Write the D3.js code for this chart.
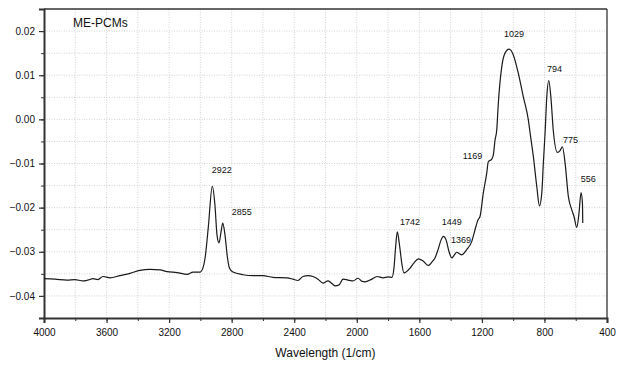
<!DOCTYPE html>
<html>
<head>
<meta charset="utf-8">
<script src="https://cdn.jsdelivr.net/npm/d3@7"></script>
<style>
  html, body { margin: 0; padding: 0; background: #fff; }
  svg { display: block; font-family: "Liberation Sans", Arial, sans-serif; }
</style>
</head>
<body>
<svg id="chart" width="622" height="365"></svg>
<script>
// FTIR spectrum of ME-PCMs
const wavenumbers = [
  4000, 3930, 3853, 3802, 3751, 3719, 3687, 3655, 3623, 3578, 3514, 3450, 3386, 3322, 3258, 3213,
  3149, 3085, 3047, 3002, 2983, 2970, 2949, 2924, 2907, 2894, 2881, 2868, 2857, 2843, 2827, 2815,
  2792, 2727, 2663, 2600, 2536, 2446, 2408, 2376, 2344, 2312, 2280, 2248, 2216, 2184, 2165, 2139,
  2113, 2088, 2056, 2024, 1992, 1966, 1947, 1909, 1870, 1832, 1800, 1775, 1762, 1752, 1741, 1727,
  1711, 1698, 1659, 1634, 1606, 1576, 1542, 1519, 1500, 1480, 1461, 1446, 1429, 1410, 1392, 1378,
  1361, 1346, 1329, 1297, 1265, 1244, 1225, 1212, 1191, 1169, 1159, 1137, 1127, 1116, 1105, 1095,
  1073, 1052, 1026, 999, 967, 935, 903, 892, 871, 849, 832, 817, 807, 796, 785, 772,
  759, 743, 717, 700, 685, 668, 647, 625, 611, 593, 579, 566, 557, 555
];
const absorbance = [
  -0.0361, -0.0362, -0.0364, -0.0363, -0.0366, -0.0364, -0.0361, -0.0363, -0.0356, -0.0359, -0.0354, -0.0349, -0.0342, -0.0340, -0.0341, -0.0345,
  -0.0347, -0.0351, -0.0346, -0.0346, -0.0336, -0.0314, -0.0243, -0.0152, -0.0194, -0.0261, -0.0280, -0.0255, -0.0235, -0.0261, -0.0313, -0.0336,
  -0.0346, -0.0352, -0.0354, -0.0354, -0.0358, -0.0359, -0.0362, -0.0365, -0.0356, -0.0354, -0.0356, -0.0362, -0.0371, -0.0366, -0.0370, -0.0377,
  -0.0375, -0.0362, -0.0364, -0.0366, -0.0360, -0.0367, -0.0368, -0.0363, -0.0356, -0.0359, -0.0357, -0.0358, -0.0336, -0.0291, -0.0255, -0.0284,
  -0.0329, -0.0348, -0.0337, -0.0325, -0.0316, -0.0321, -0.0331, -0.0323, -0.0314, -0.0295, -0.0273, -0.0265, -0.0273, -0.0300, -0.0314, -0.0308,
  -0.0301, -0.0304, -0.0307, -0.0295, -0.0277, -0.0250, -0.0228, -0.0220, -0.0167, -0.0122, -0.0096, -0.0090, -0.0081, -0.0047, -0.0024, 0.0036,
  0.0119, 0.0150, 0.0159, 0.0146, 0.0104, 0.0051, -0.0001, -0.0030, -0.0084, -0.0152, -0.0196, -0.0167, -0.0099, -0.0031, 0.0051, 0.0088,
  0.0051, -0.0027, -0.0075, -0.0071, -0.0062, -0.0099, -0.0175, -0.0205, -0.0220, -0.0245, -0.0212, -0.0166, -0.0190, -0.0235
];

// Peak annotations: label text and the (wavenumber, absorbance) of its baseline start
const peakLabels = ["2922", "2855", "1742", "1449", "1369", "1169", "1029", "794", "775", "556"];
const peakLabelX = [2928, 2800, 1723, 1457, 1397, 1322, 1058, 783, 681, 568];
const peakLabelY = [-0.0121, -0.0216, -0.0239, -0.0240, -0.0279, -0.0090, 0.0187, 0.0107, -0.0053, -0.0141];

const xTickValues = [4000, 3600, 3200, 2800, 2400, 2000, 1600, 1200, 800, 400];
const yTickValues = [-0.04, -0.03, -0.02, -0.01, 0.00, 0.01, 0.02];
const xMinorValues = d3.range(400, 4001, 200);
const yMinorValues = d3.range(-45, 26, 5).map(v => v / 1000);

const svg = d3.select("#chart");
const margin = { left: 44, right: 15, top: 9, bottom: 47 };
const W = 622, H = 365;

const x = d3.scaleLinear().domain([4000, 400]).range([margin.left, W - margin.right]);
const y = d3.scaleLinear().domain([-0.045, 0.025]).range([H - margin.bottom, margin.top]);

// dotted grid at every major and minor step
const grid = svg.append("g");
grid.selectAll("line.gx").data(xMinorValues.filter(v => v > 400 && v < 4000)).join("line")
  .attr("x1", d => x(d)).attr("x2", d => x(d))
  .attr("y1", y.range()[0]).attr("y2", y.range()[1])
  .attr("stroke", "#c8c8c8").attr("stroke-width", 0.8).attr("stroke-dasharray", "1,1.5");
grid.selectAll("line.gy").data(yMinorValues.filter(v => v > -0.045 && v < 0.025)).join("line")
  .attr("y1", d => y(d)).attr("y2", d => y(d))
  .attr("x1", x.range()[0]).attr("x2", x.range()[1])
  .attr("stroke", "#c8c8c8").attr("stroke-width", 0.8).attr("stroke-dasharray", "1,1.5");

// frame: top and right edges
svg.append("line").attr("x1", x(4000)).attr("x2", x(400)).attr("y1", y(0.025)).attr("y2", y(0.025))
  .attr("stroke", "#333").attr("stroke-width", 1.3);
svg.append("line").attr("x1", x(400)).attr("x2", x(400)).attr("y1", y(0.025)).attr("y2", y(-0.045))
  .attr("stroke", "#333").attr("stroke-width", 1.3);

// minor ticks
const xMinorAxis = d3.axisBottom(x).tickValues(xMinorValues).tickSize(3).tickFormat("");
const yMinorAxis = d3.axisLeft(y).tickValues(yMinorValues).tickSize(3).tickFormat("");
svg.append("g").attr("transform", `translate(0,${y(-0.045)})`).call(xMinorAxis)
  .call(g => g.select(".domain").remove())
  .call(g => g.selectAll("line").attr("stroke", "#333"));
svg.append("g").attr("transform", `translate(${x(4000)},0)`).call(yMinorAxis)
  .call(g => g.select(".domain").remove())
  .call(g => g.selectAll("line").attr("stroke", "#333"));

// major axes
const xAxis = d3.axisBottom(x).tickValues(xTickValues).tickSize(5).tickPadding(6).tickFormat(d3.format("d"));
const yAxis = d3.axisLeft(y).tickValues(yTickValues).tickSize(5).tickPadding(4).tickFormat(d3.format(".2f"));

svg.append("g").attr("transform", `translate(0,${y(-0.045)})`).call(xAxis)
  .call(g => g.select(".domain").attr("stroke", "#333").attr("stroke-width", 2))
  .call(g => g.selectAll(".tick line").attr("stroke", "#333").attr("stroke-width", 1.2))
  .call(g => g.selectAll("text").attr("font-size", 10).attr("fill", "#111")
    .attr("font-family", "Liberation Sans, Arial, sans-serif"));
svg.append("g").attr("transform", `translate(${x(4000)},0)`).call(yAxis)
  .call(g => g.select(".domain").attr("stroke", "#333").attr("stroke-width", 2))
  .call(g => g.selectAll(".tick line").attr("stroke", "#333").attr("stroke-width", 1.2))
  .call(g => g.selectAll("text").attr("font-size", 10).attr("fill", "#111")
    .attr("font-family", "Liberation Sans, Arial, sans-serif"));

// axis title
svg.append("text").attr("x", (x(4000) + x(400)) / 2).attr("y", 357)
  .attr("text-anchor", "middle").attr("font-size", 12).attr("fill", "#111")
  .text("Wavelength (1/cm)");

// spectrum
const pts = wavenumbers.map((w, i) => [w, absorbance[i]]);
svg.append("path").datum(pts)
  .attr("fill", "none").attr("stroke", "#1a1a1a").attr("stroke-width", 1.2)
  .attr("stroke-linejoin", "round")
  .attr("d", d3.line().x(d => x(d[0])).y(d => y(d[1])).curve(d3.curveMonotoneX));

// sample name
svg.append("text").attr("x", 73).attr("y", 27).attr("font-size", 12).attr("fill", "#111")
  .text("ME-PCMs");

// peak labels
svg.append("g").selectAll("text").data(peakLabels).join("text")
  .attr("x", (d, i) => x(peakLabelX[i]))
  .attr("y", (d, i) => y(peakLabelY[i]))
  .attr("font-size", 9).attr("fill", "#111")
  .text(d => d);
</script>
</body>
</html>
